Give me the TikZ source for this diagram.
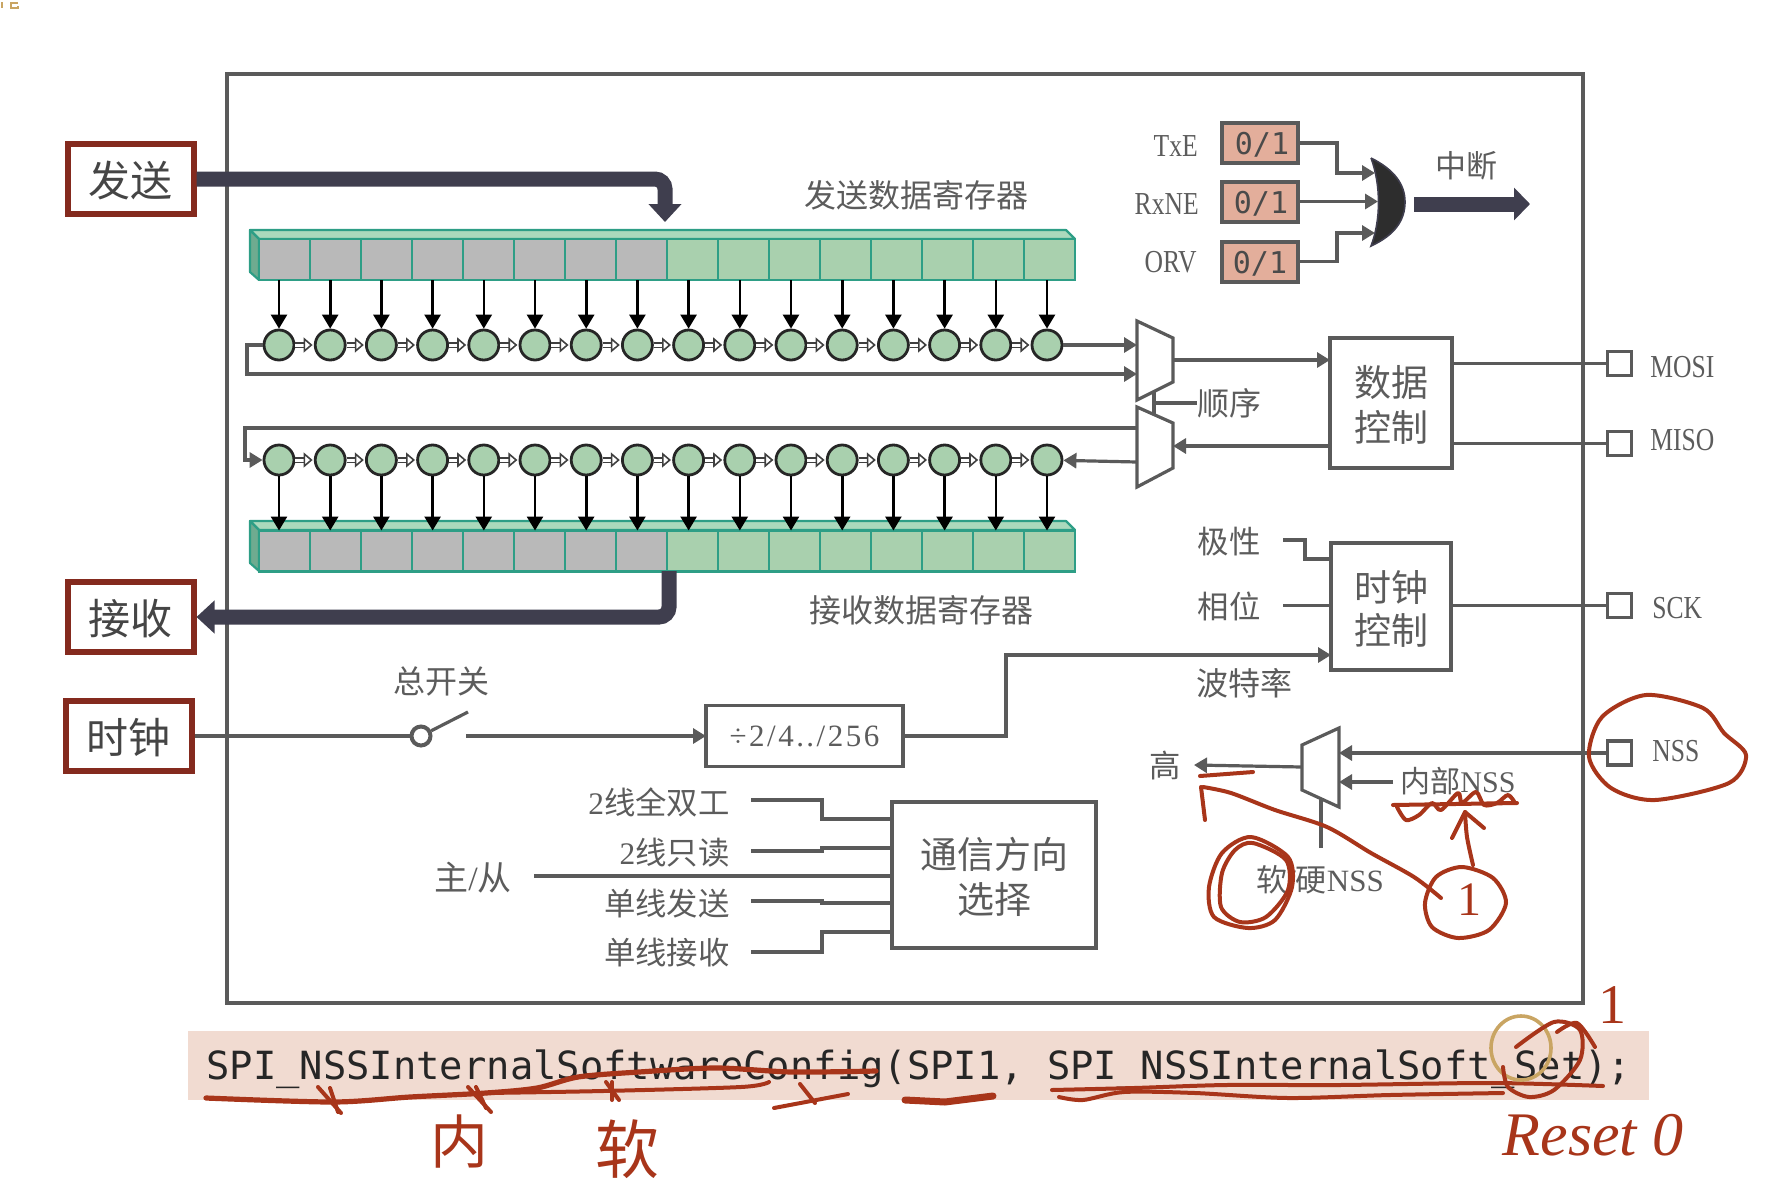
\documentclass[tikz,border=0pt]{standalone}
\usepackage{fontspec}
\setmainfont{Liberation Serif}
\newfontfamily\cjk{Noto Sans CJK SC}
\newfontfamily\codefont{DejaVu Sans Mono}
\usetikzlibrary{arrows.meta,calc,positioning}
\definecolor{Wire}{HTML}{5A5A5A}
\definecolor{Label}{HTML}{5C5C5C}
\definecolor{BoxRed}{HTML}{842A1E}
\definecolor{Arrow}{HTML}{3F3E4E}
\definecolor{CellGray}{HTML}{B9B9B9}
\definecolor{CellGreen}{HTML}{A9D0AE}
\definecolor{RegEdge}{HTML}{2E9E86}
\definecolor{RegTop}{HTML}{ABD9BC}
\definecolor{RegSide}{HTML}{6FAB90}
\definecolor{Flag}{HTML}{E3AE9B}
\definecolor{Band}{HTML}{F1DBD1}
\definecolor{Pen}{HTML}{A8351A}
\definecolor{Pointer}{HTML}{C9A563}
\newcommand{\zh}[1]{{\cjk #1}}
\newcommand{\fs}[1]{\fontsize{#1}{#1}\selectfont}
\newcommand{\low}[1]{\raisebox{0pt}[\dimexpr\height+2pt\relax]{#1}}
\tikzset{
  wire/.style={draw=Wire,line width=1.6pt},
  wirearrow/.style={wire,-{Triangle[width=7.5pt,length=6.5pt]}},
  box/.style={draw=Wire,line width=1.8pt,fill=white,inner sep=0pt,outer sep=0pt,
    align=center,text=Label},
  pad/.style={draw=Wire,line width=1.8pt,fill=white,minimum size=12pt,inner sep=0pt},
  lab/.style={text=Label,inner sep=0pt,font=\fs{15.7}},
  latinlab/.style={text=Label,inner sep=0pt,font=\fs{16},xscale=.8},
  redbox/.style={draw=BoxRed,line width=3pt,fill=white,inner sep=0pt,
    minimum width=63pt,minimum height=35pt,font=\cjk\fs{21},text=Label!75!black},
  flagbox/.style={draw=Wire,line width=2pt,fill=Flag,inner sep=0pt,outer sep=0pt,
    minimum width=38pt,minimum height=20pt,font=\codefont\fs{15},text=Label!80!black},
  fatarrow/.style={draw=Arrow,line width=7.5pt,rounded corners=5pt,
    -{Triangle[width=16pt,length=9pt]}},
  shiftnode/.style={circle,draw=black!85,line width=1.4pt,fill=CellGreen,
    minimum size=15pt,inner sep=0pt},
  shiftarrow/.style={draw=black!75,double=white,double distance=1.5pt,line width=.7pt,
    shorten >=.6pt,-{Triangle[open,fill=white,width=7.5pt,length=4.5pt,line width=.8pt]}},
  loadarrow/.style={draw=black,line width=1.3pt,-{Triangle[width=8pt,length=7pt]}},
  regcell/.style={draw=RegEdge,line width=1.1pt,minimum width=25.5pt,minimum height=20.5pt,
    inner sep=0pt,outer sep=0pt},
  regface/.style={draw=RegEdge,line width=1.1pt,line join=round},
  pen/.style={draw=Pen,line width=2pt,line cap=round,line join=round},
  penthick/.style={pen,line width=2.6pt},
  pentext/.style={text=Pen,inner sep=0pt}
}
\begin{document}
\begin{tikzpicture}[x=0.5pt,y=-0.5pt]
  \useasboundingbox (0,0) rectangle (1784,1184);
  \fill[Pointer] (1,2) rectangle (3,8);
  \draw[Pointer,line width=.9pt] (18,3) -- (11,3) -- (11,8) -- (18,8) -- (18,6);
  \node[draw=Wire,line width=1.8pt,minimum width=678pt,minimum height=464.5pt,
    inner sep=0pt] (chip) at (905,538.5) {};

  \node[redbox] (send) at (130.5,179) {\low{发送}};
  \node[redbox] (recv) at (130.5,617) {\low{接收}};
  \node[redbox] (clk) at (128.5,736) {\low{时钟}};

  \foreach \name/\y/\ftop in {txreg/259.5/230,rxreg/551/521}{
    \fill[RegTop] (250,\ftop) -- (1066,\ftop) -- (1075,\ftop+9) -- (259,\ftop+9) -- cycle;
    \draw[regface] (250,\ftop) -- (1066,\ftop) -- (1075,\ftop+9) -- (259,\ftop+9) -- cycle;
    \draw[regface,fill=RegSide] (250,\ftop) -- (259,\ftop+9) -- (259,\ftop+50)
      -- (250,\ftop+42) -- cycle;
    \foreach \i in {1,...,16}{
      \pgfmathtruncatemacro\isgray{\i<9 ? 1 : 0}
      \ifnum\isgray=1 \def\cellcol{CellGray}\else\def\cellcol{CellGreen}\fi
      \node[regcell,fill=\cellcol] (\name\i) at (233.5+51*\i,\y) {};
    }
  }

  \foreach \i in {1,...,16}{
    \node[shiftnode] (ts\i) at (227.8+51.2*\i,345) {};
    \node[shiftnode] (rs\i) at (227.8+51.2*\i,460) {};
    \draw[loadarrow] (ts\i.north |- txreg\i.south) -- (ts\i.north);
    \draw[loadarrow] (rs\i.south) -- (rs\i.south |- rxreg\i.north);
  }
  \foreach \i [remember=\i as \prev (initially 1)] in {2,...,16}{
    \draw[shiftarrow] (ts\prev) -- (ts\i);
    \draw[shiftarrow] (rs\prev) -- (rs\i);
  }

  \coordinate (sendtip) at (665,222);
  \coordinate (recvtop) at (669,571);
  \draw[fatarrow] (send.east) -| (sendtip);
  \draw[fatarrow] (recvtop) |- (recv.east);
  \node[lab,font=\cjk\fs{16}] (txname) at (916,195) {发送数据寄存器};
  \node[lab,font=\cjk\fs{16}] (rxname) at (921,610) {接收数据寄存器};

  \node[flagbox] (txe) at (1260,143) {\low{\hspace{2pt}0/1}};
  \node[flagbox] (rxne) at (1260,201.5) {\low{\hspace{1pt}0/1}};
  \node[flagbox] (orv) at (1260,261.5) {\low{0/1}};
  \node[latinlab,anchor=east] (txelab) at (1198,146) {TxE};
  \node[latinlab,anchor=east] (rxnelab) at (1199,204) {RxNE};
  \node[latinlab,anchor=east] (orvlab) at (1197,262) {ORV};
  \draw[fill=Wire!50!black,draw=Arrow,line width=.8pt] (1371,158)
    .. controls (1395,170) and (1405,185) .. (1405,202)
    .. controls (1405,220) and (1395,235) .. (1371,246)
    .. controls (1381,220) and (1381,185) .. (1371,158);
  \coordinate (gatea) at (1375,173);
  \coordinate (gateb) at (1378,201.5);
  \coordinate (gatec) at (1375,233);
  \draw[wirearrow] (txe.east) -- (1337,143) |- (gatea);
  \draw[wirearrow] (rxne.east) -- (gateb);
  \draw[wirearrow] (orv.east) -- (1337,261.5) |- (gatec);
  \coordinate (intfrom) at (1414,204);
  \coordinate (intto) at (1530,204);
  \draw[draw=Arrow,line width=7.5pt,-{Triangle[width=16pt,length=8pt]}] (intfrom) -- (intto);
  \node[lab,font=\cjk\fs{15.5}] (intlab) at (1466,166) {中断};

  \draw[wire,fill=white] (1137,321) -- (1173,338) -- (1173,382) -- (1137,400) -- cycle;
  \draw[wire,fill=white] (1137,407) -- (1173,423) -- (1173,468) -- (1137,487) -- cycle;
  \coordinate (txin) at (1137,345);
  \coordinate (loopin) at (1137,374);
  \coordinate (txout) at (1173,360);
  \coordinate (rxfeed) at (1137,428);
  \coordinate (rxdrive) at (1137,462);
  \coordinate (rxin) at (1173,446);
  \coordinate (txloop) at (247,374);
  \coordinate (rxloop) at (245,428);
  \coordinate (seqa) at (1154,392);
  \coordinate (seqb) at (1154,415);

  \node[box,minimum width=61pt,minimum height=65pt,font=\cjk\fs{18.5}] (datactl)
    at (1391,403) {\low{数据}\\[4pt]控制};
  \node[box,minimum width=60pt,minimum height=63.5pt,font=\cjk\fs{18.5}] (clkctl)
    at (1391,606.5) {\low{时钟}\\[3pt]控制};

  \draw[wirearrow] (ts16) -- (txin);
  \draw[wirearrow] (ts1.west) -| (txloop) -- (loopin);
  \draw[wirearrow] (rxfeed) -- (rxloop) |- (rs1.west);
  \draw[wirearrow] (rxdrive) -- (rs16);
  \draw[wirearrow] (txout) -- (datactl.west |- txout);
  \draw[wirearrow] (datactl.west |- rxin) -- (rxin);
  \node[lab,font=\cjk\fs{16}] (seqlab) at (1229,403) {顺序};
  \draw[wire] (seqa) -- (seqb);
  \draw[wire] (seqlab.west) -- (seqa |- seqlab.west);

  \node[pad] (mosi) at (1619.5,363.5) {};
  \node[pad] (miso) at (1619.5,443.5) {};
  \node[pad] (sck) at (1619.5,605.5) {};
  \node[pad] (nss) at (1619.5,753) {};
  \node[latinlab,anchor=west] (mosilab) at (1650,367) {MOSI};
  \node[latinlab,anchor=west] (misolab) at (1650,440) {MISO};
  \node[latinlab,anchor=west] (scklab) at (1652,608) {SCK};
  \node[latinlab,anchor=west] (nsslab) at (1652,751) {NSS};
  \draw[wire] (datactl.east |- mosi.west) -- (mosi.west);
  \draw[wire] (datactl.east |- miso.west) -- (miso.west);
  \draw[wire] (clkctl.east |- sck.west) -- (sck.west);

  \node[lab,font=\cjk\fs{15.7}] (polab) at (1229,542) {极性};
  \node[lab,font=\cjk\fs{15.7}] (phaselab) at (1229,606) {相位};
  \node[lab,font=\cjk\fs{16}] (baudlab) at (1244,683) {波特率};
  \coordinate (polin) at (1283,540);
  \coordinate (polend) at (1331,559);
  \coordinate (phasein) at (1283,605.5);
  \draw[wire] (polin) -- (1305,540) -- (1305,559) -- (polend);
  \draw[wire] (phasein) -- (clkctl.west |- phasein);

  \node[circle,draw=Wire,line width=2pt,minimum size=9.5pt,inner sep=0pt] (swpivot) at (421,736) {};
  \coordinate (swtip) at (468,712);
  \coordinate (swgap) at (466,736);
  \coordinate (baudturn) at (1006,655);
  \node[lab,font=\cjk\fs{16}] (swlab) at (441,681) {总开关};
  \node[box,minimum width=98.5pt,minimum height=30.5pt,
    font=\fs{15.5}\addfontfeature{LetterSpace=8}] (divbox)
    at (804.5,736) {÷2/4../256};
  \draw[wire] (clk.east) -- (swpivot);
  \draw[wire] (swpivot) -- (swtip);
  \draw[wirearrow] (swgap) -- (divbox.west);
  \draw[wirearrow] (divbox.east) -| (baudturn) -- (clkctl.west |- baudturn);

  \node[box,minimum width=102pt,minimum height=73pt,font=\cjk\fs{18.5}] (commbox)
    at (994,875) {\low{通信方向}\\[4pt]选择};
  \foreach \name/\ya/\yb/\ylab/\lab in {
    duplex/800/819/802/{2\zh{线全双工}},
    readonly/851/848/853/{2\zh{线只读}},
    txonly/901/903/904/{\zh{单线发送}},
    rxonly/952/932/953/{\zh{单线接收}}}{
    \node[lab,anchor=east] (\name) at (730,\ylab) {\lab};
    \coordinate (\name in) at (751,\ya);
    \draw[wire] (\name in) -| (822,\yb) -- (commbox.west |- 822,\yb);
  }
  \node[lab,font=\fs{17}] (masterlab) at (473,878) {\zh{主}/\zh{从}};
  \coordinate (masterin) at (534,876);
  \draw[wire] (masterin) -- (commbox.west |- masterin);

  \draw[wire,fill=white] (1302,745) -- (1339,728) -- (1339,807) -- (1302,790) -- cycle;
  \node[lab] (highlab) at (1165,765) {\zh{高}};
  \node[lab,font=\fs{15}] (innerlab) at (1458,781) {\zh{内部}NSS};
  \node[lab,font=\fs{15.5}] (softlab) at (1320,880) {\zh{软}/\zh{硬}NSS};
  \coordinate (nssin) at (1339,753);
  \coordinate (innerin) at (1339,782);
  \coordinate (innerfrom) at (1393,782);
  \coordinate (nssout) at (1302,767);
  \coordinate (selfrom) at (1321,848);
  \coordinate (selto) at (1321,799);
  \draw[wirearrow] (nss.west) -- (nssin);
  \draw[wirearrow] (innerfrom) -- (innerin);
  \draw[wirearrow] (nssout) -- (highlab.east -| 1194,767);
  \draw[wire] (selfrom) -- (selto);

  \node[fill=Band,minimum width=730.5pt,minimum height=34.5pt,inner sep=0pt] (band)
    at (918.5,1065.5) {};
  \node[anchor=west,inner sep=0pt,text=black!85,font=\codefont\fs{19.4}] (code)
    at (206,1069) {SPI\_NSSInternalSoftwareConfig(SPI1, SPI\_NSSInternalSoft\_Set);};

  \draw[pen] plot[smooth cycle] coordinates {(1646,695) (1703,708) (1724,733) (1746,755)
    (1729,783) (1655,800) (1611,788) (1589,757) (1602,717)};
  \draw[pen] plot[smooth cycle] coordinates {(1251,837) (1288,857) (1292,887) (1275,920)
    (1248,928) (1214,917) (1209,887) (1222,853)};
  \draw[pen] plot[smooth cycle] coordinates {(1253,843) (1286,860) (1288,890) (1266,917)
    (1240,922) (1221,907) (1222,873) (1235,850)};
  \draw[pen] plot[smooth cycle] coordinates {(1462,867) (1493,878) (1506,903) (1489,930)
    (1458,938) (1432,927) (1425,903) (1436,877)};
  \node[pentext,font=\fs{24}] (circled) at (1469,900) {1};
  \draw[pen] plot[smooth] coordinates {(1441,898) (1414,877) (1371,853) (1327,827)
    (1275,810) (1231,793) (1203,787)};
  \draw[pen] (1205,820) -- (1201,787);
  \draw[pen] (1200,776) -- (1253,772);
  \draw[pen] plot[smooth] coordinates {(1473,865) (1467,837) (1465,812)};
  \draw[pen] (1452,838) -- (1465,812) -- (1484,828);
  \draw[pen] (1393,805) -- (1517,803);
  \draw[pen] plot[smooth] coordinates {(1397,807) (1406,820) (1419,815) (1432,803) (1441,810)
    (1458,793) (1462,803) (1476,792) (1484,805) (1497,803) (1508,795) (1515,803)};

  \draw[penthick] plot[smooth] coordinates {(206,1098) (333,1102) (410,1097) (486,1093) (537,1088)
    (578,1077) (639,1072) (716,1068) (792,1072) (876,1071)};
  \draw[pen] plot[smooth] coordinates {(486,1093) (603,1091) (741,1087) (769,1082)};
  \foreach \xa/\ya/\xb/\yb in {318/1087/341/1113,330/1088/338/1112,468/1087/491/1112,
    476/1087/486/1108,606/1082/619/1100,612/1082/612/1100,774/1108/848/1094,800/1084/815/1103}
    \draw[pen] (\xa,\ya) -- (\xb,\yb);
  \draw[pen,line width=3.5pt] (905,1100) -- (945,1102) -- (993,1096);
  \draw[pen] plot[smooth] coordinates {(1052,1090) (1134,1088) (1226,1085) (1339,1085)
    (1493,1083) (1603,1086)};
  \draw[pen] plot[smooth] coordinates {(1059,1097) (1083,1100) (1124,1092) (1195,1093)
    (1288,1098) (1390,1095) (1503,1093)};
  \draw[Pointer,line width=1.8pt] (1521,1048) ellipse (30 and 32);
  \draw[pen] plot[smooth] coordinates {(1516,1047) (1554,1022) (1580,1030) (1580,1060)
    (1554,1090) (1529,1097) (1508,1087) (1503,1067)};
  \draw[pen] plot[smooth] coordinates {(1557,1032) (1577,1023) (1595,1047)};
  \node[pentext,font=\fs{28}] (setone) at (1612,1005) {1};
  \node[pentext,font=\fs{31}\itshape] (resetlab) at (1593,1135) {Reset 0};
  \node[pentext,font=\cjk\fs{29}] (neilab) at (459,1142) {内};
  \node[pentext,font=\cjk\fs{32}] (ruanlab) at (627,1149) {软};
\end{tikzpicture}
\end{document}
